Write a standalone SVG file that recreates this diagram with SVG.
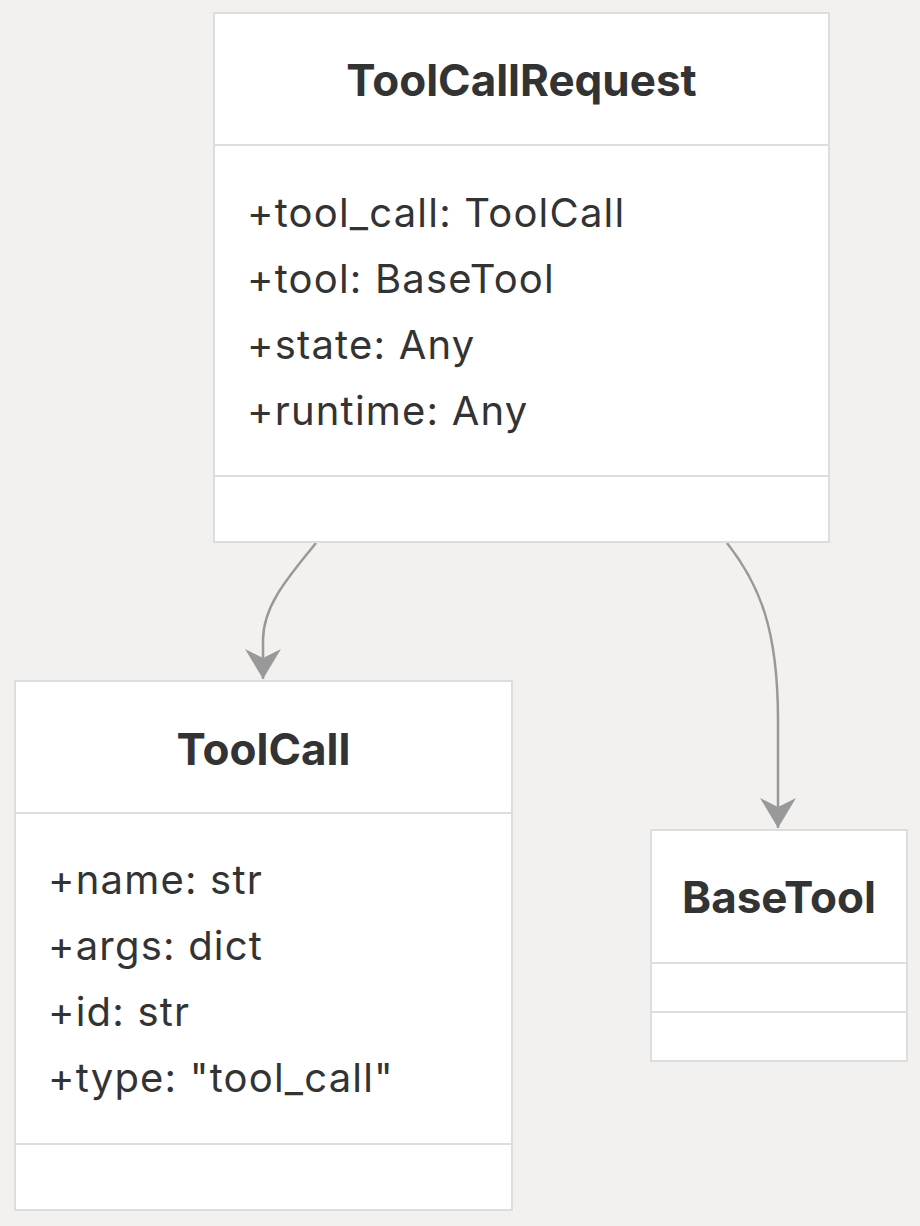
<svg xmlns="http://www.w3.org/2000/svg" width="920" height="1226" viewBox="0 0 920 1226">
<defs>
<style>
.bg{fill:#f2f1f0}
.box{fill:#ffffff;stroke:#dddddd;stroke-width:2}
.div{stroke:#dddddd;stroke-width:2}
.title{font-family:Inter,"Liberation Sans",sans-serif;font-weight:700;font-size:44px;fill:#333333;text-anchor:middle}
.attr{font-family:Inter,"Liberation Sans",sans-serif;font-size:40px;letter-spacing:1.2px;fill:#333333}
.edge{fill:none;stroke:#999999;stroke-width:2.5}
</style>
<marker id="arrow" markerUnits="userSpaceOnUse" viewBox="0 0 30 38" refX="30" refY="19" markerWidth="30" markerHeight="38" orient="auto">
<path d="M0,1 L30,19 L0,37 L9,19 Z" fill="#999999"/>
</marker>
</defs>
<rect class="bg" x="0" y="0" width="920" height="1226"/>
<g id="connectors">
<path class="edge" d="M316,543 C290,575 263,605 263,640 L263,679" marker-end="url(#arrow)"/>
<path class="edge" d="M727,543 C760,585 778,630 778,720 L778,828" marker-end="url(#arrow)"/>
</g>
<g id="ToolCallRequest">
<rect class="box" x="214" y="13" width="615" height="529"/>
<line class="div" x1="214" y1="145" x2="829" y2="145"/>
<line class="div" x1="214" y1="476" x2="829" y2="476"/>
<text class="title" x="521.5" y="96">ToolCallRequest</text>
<text class="attr" x="247" y="227">+tool_call: ToolCall</text>
<text class="attr" x="247" y="293">+tool: BaseTool</text>
<text class="attr" x="247" y="359">+state: Any</text>
<text class="attr" x="247" y="425">+runtime: Any</text>
</g>
<g id="ToolCall">
<rect class="box" x="15" y="681" width="497" height="529"/>
<line class="div" x1="15" y1="813" x2="512" y2="813"/>
<line class="div" x1="15" y1="1144" x2="512" y2="1144"/>
<text class="title" x="263.5" y="765">ToolCall</text>
<text class="attr" x="48" y="894">+name: str</text>
<text class="attr" x="48" y="960">+args: dict</text>
<text class="attr" x="48" y="1026">+id: str</text>
<text class="attr" x="48" y="1092">+type: "tool_call"</text>
</g>
<g id="BaseTool">
<rect class="box" x="651" y="830" width="256" height="231"/>
<line class="div" x1="651" y1="963" x2="907" y2="963"/>
<line class="div" x1="651" y1="1012" x2="907" y2="1012"/>
<text class="title" x="779" y="913">BaseTool</text>
</g>
</svg>
